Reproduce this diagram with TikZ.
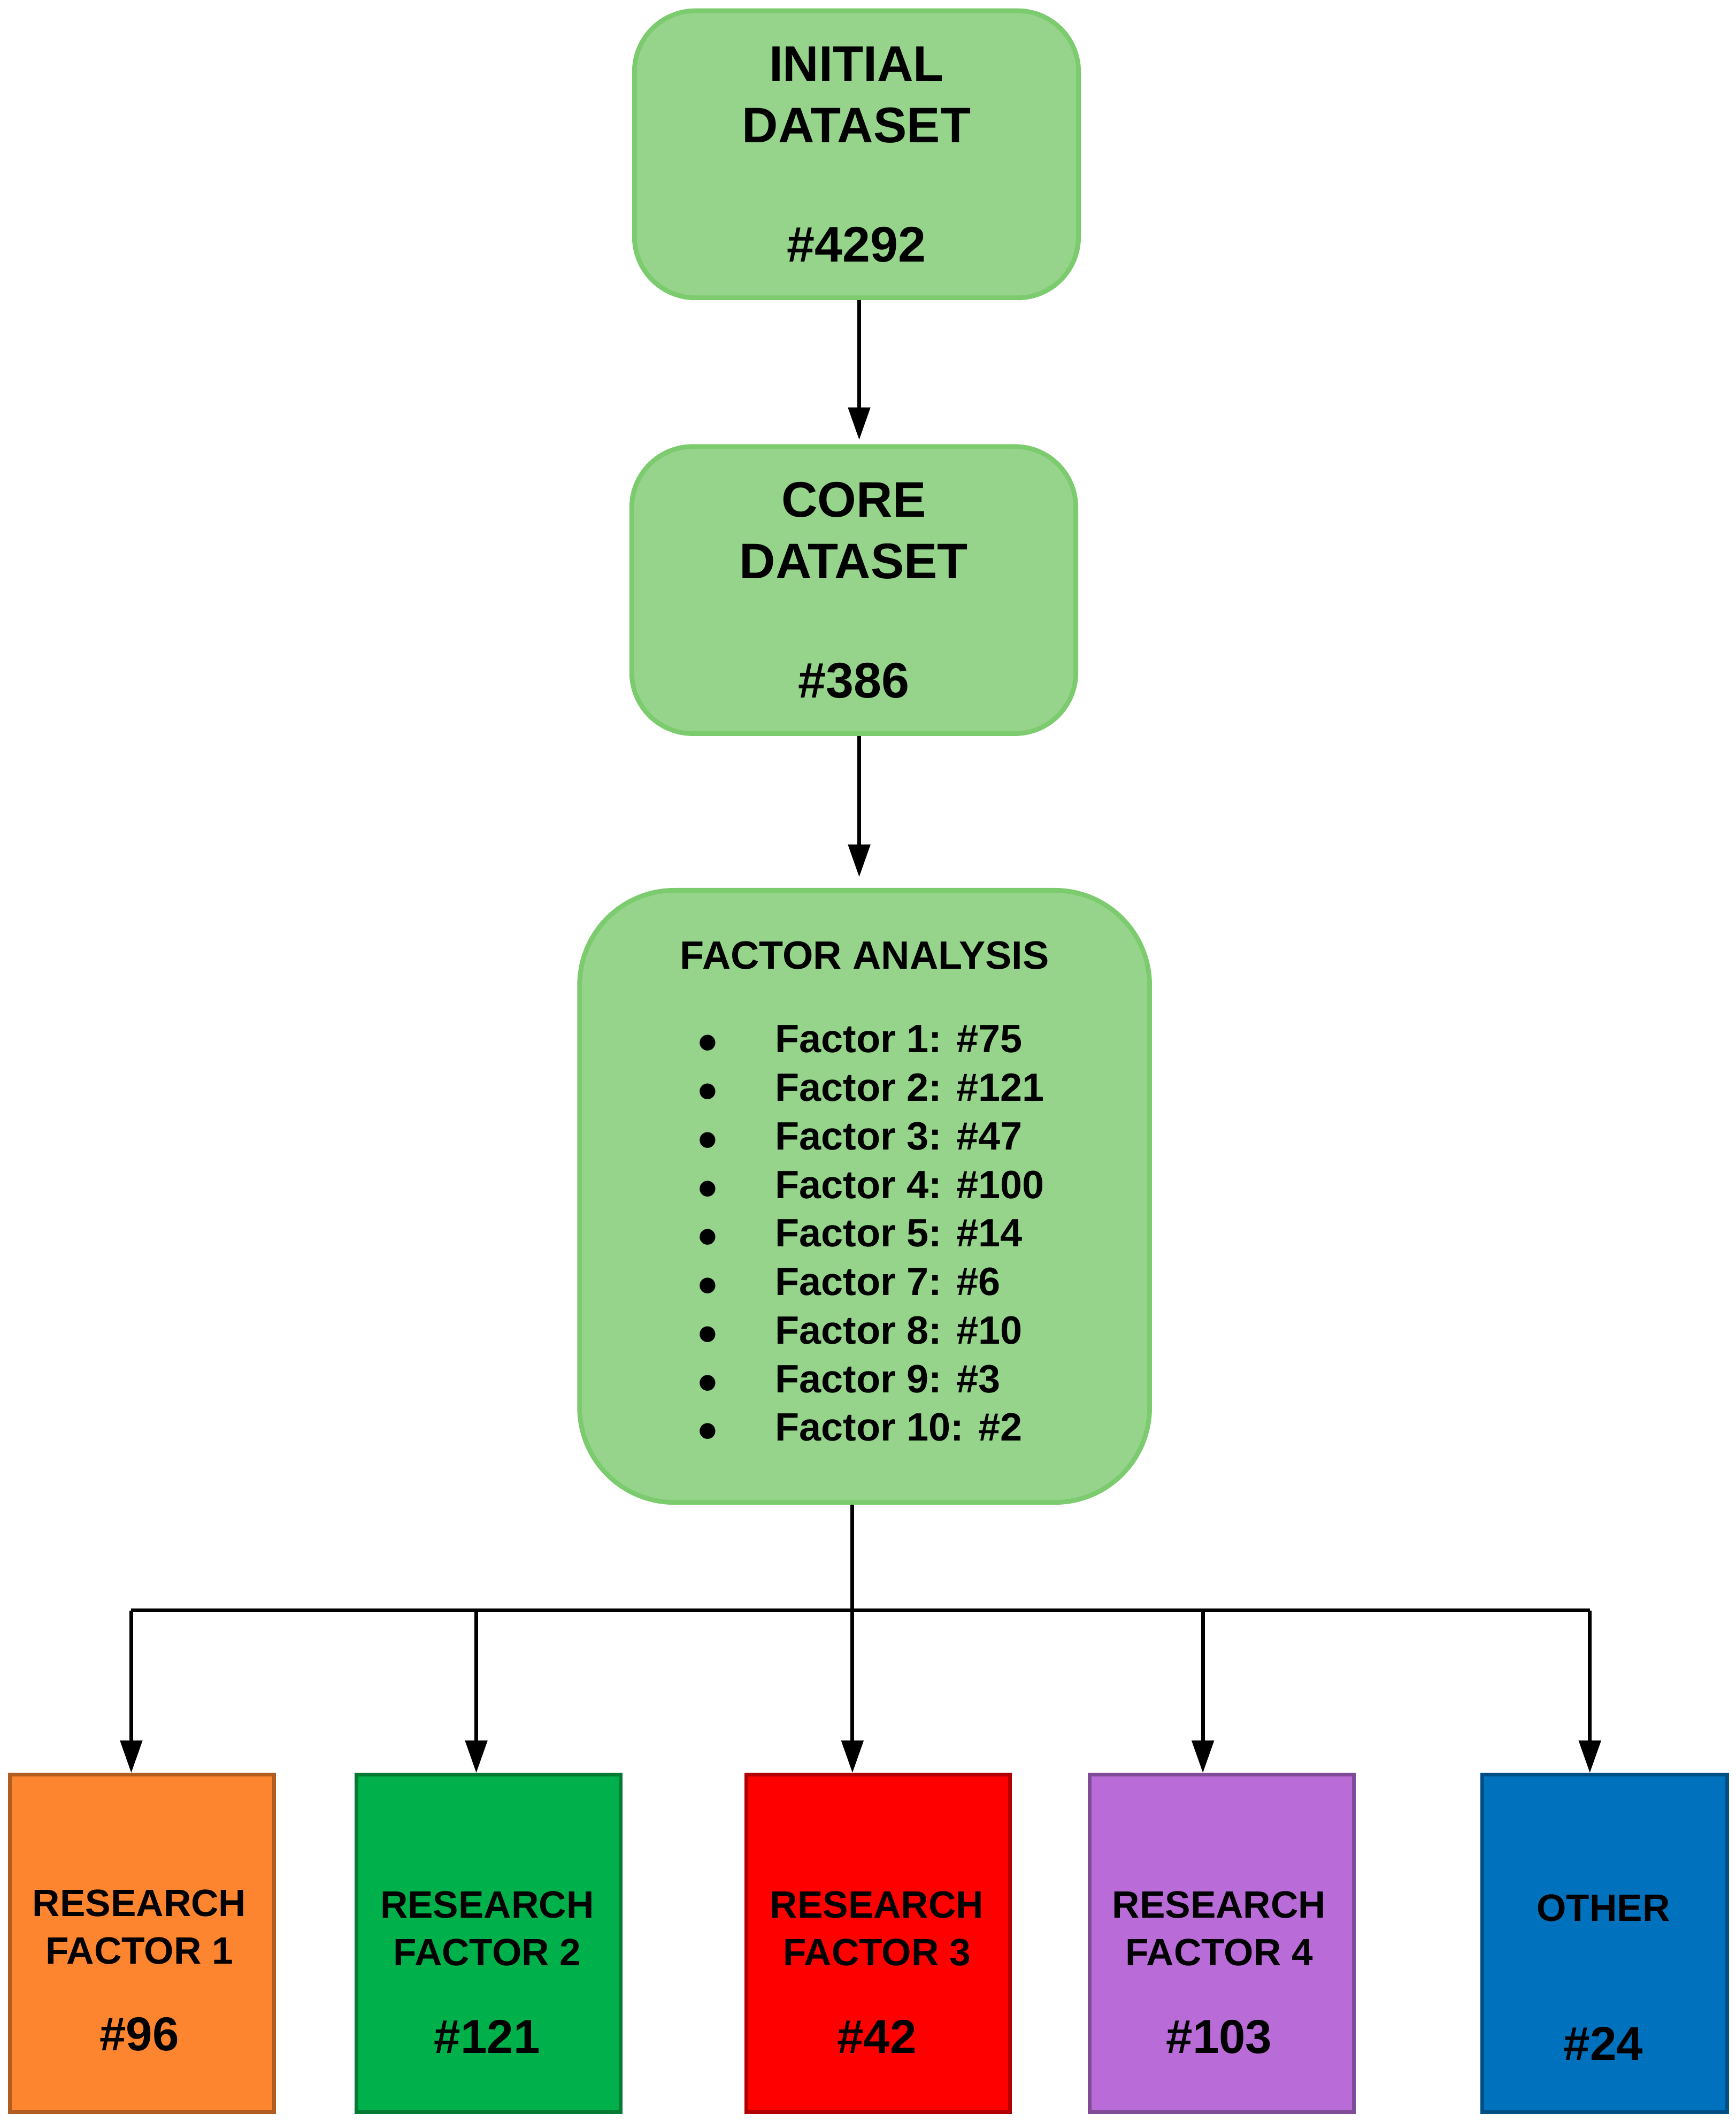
\documentclass[tikz,border=0pt]{standalone}
\usepackage{fontspec}
\setmainfont{Liberation Sans}
\usetikzlibrary{arrows.meta}
\definecolor{boxgreen}{HTML}{96D48C}
\definecolor{edgegreen}{HTML}{7CCB6E}
\definecolor{rforange}{HTML}{FD8530}
\definecolor{rfgreen}{HTML}{00B04A}
\definecolor{rfred}{HTML}{FF0000}
\definecolor{rfpurple}{HTML}{B96CD8}
\definecolor{rfblue}{HTML}{0071BC}
\tikzset{
  stage/.style={draw=edgegreen,fill=boxgreen,line width=1pt,rounded corners=0.45cm,
    minimum width=3.28cm,minimum height=2.12cm,font=\bfseries\fontsize{10.5}{13}\selectfont,align=center},
  result/.style={draw=#1!70!black,fill=#1,line width=0.8pt,minimum width=1.95cm,minimum height=2.49cm},
  rtext/.style={font=\bfseries\fontsize{8}{10}\selectfont,align=center},
  arr/.style={-{Triangle[length=2.4mm,width=1.6mm]},line width=0.8pt}
}
\begin{document}
\begin{tikzpicture}[x=0.01cm,y=-0.01cm]
\useasboundingbox (0,0) rectangle (1283,1568);
\node[stage] (init) at (633,114) {INITIAL\\DATASET\\[12pt]\#4292};
\node[stage] (core) at (631,436) {CORE\\DATASET\\[12pt]\#386};
\node[stage,minimum width=4.21cm,minimum height=4.52cm,rounded corners=0.7cm] (fa) at (639,884) {};
\node[font=\bfseries\fontsize{8.3}{10}\selectfont] (fatitle) at (639,706) {FACTOR ANALYSIS};
\node[font=\bfseries\fontsize{8.3}{10.2}\selectfont,anchor=north west,inner sep=0pt] (falist) at (515,752) {%
\begin{tabular}{@{}l@{\hspace{12pt}}l@{}}
$\bullet$ & Factor 1: \#75\\
$\bullet$ & Factor 2: \#121\\
$\bullet$ & Factor 3: \#47\\
$\bullet$ & Factor 4: \#100\\
$\bullet$ & Factor 5: \#14\\
$\bullet$ & Factor 7: \#6\\
$\bullet$ & Factor 8: \#10\\
$\bullet$ & Factor 9: \#3\\
$\bullet$ & Factor 10: \#2
\end{tabular}};
\draw[arr] (init.south -| 635,0) -- (635,325);
\draw[arr] (core.south -| 635,0) -- (635,648);
% result boxes
\node[result=rforange] (rf1) at (105,1436) {};
\node[result=rfgreen] (rf2) at (361,1436) {};
\node[result=rfred] (rf3) at (649,1436) {};
\node[result=rfpurple] (rf4) at (903,1436) {};
\node[result=rfblue,minimum width=1.81cm] (oth) at (1186,1436) {};
\node[rtext] (t1) at (103,1424) {RESEARCH\\FACTOR 1};
\node[rtext] (t2) at (360,1425) {RESEARCH\\FACTOR 2};
\node[rtext] (t3) at (648,1425) {RESEARCH\\FACTOR 3};
\node[rtext] (t4) at (901,1425) {RESEARCH\\FACTOR 4};
\node[rtext] (t5) at (1185,1410) {OTHER};
\node[rtext,font=\bfseries\fontsize{10}{12}\selectfont] (n1) at (103,1503) {\#96};
\node[rtext,font=\bfseries\fontsize{10}{12}\selectfont] (n2) at (360,1505) {\#121};
\node[rtext,font=\bfseries\fontsize{10}{12}\selectfont] (n3) at (648,1505) {\#42};
\node[rtext,font=\bfseries\fontsize{10}{12}\selectfont] (n4) at (901,1505) {\#103};
\node[rtext,font=\bfseries\fontsize{10}{12}\selectfont] (n5) at (1185,1510) {\#24};
% split
\coordinate (split) at (630,1190);
\draw[line width=0.8pt] (fa.south -| split) -- (split);
\draw[line width=0.8pt] (97,1190) -- (1175,1190);
\draw[arr] (97,1190) -- (rf1.north -| 97,0);
\draw[arr] (352,1190) -- (rf2.north -| 352,0);
\draw[arr] (split) -- (rf3.north -| split);
\draw[arr] (889,1190) -- (rf4.north -| 889,0);
\draw[arr] (1175,1190) -- (oth.north -| 1175,0);
\end{tikzpicture}
\end{document}
